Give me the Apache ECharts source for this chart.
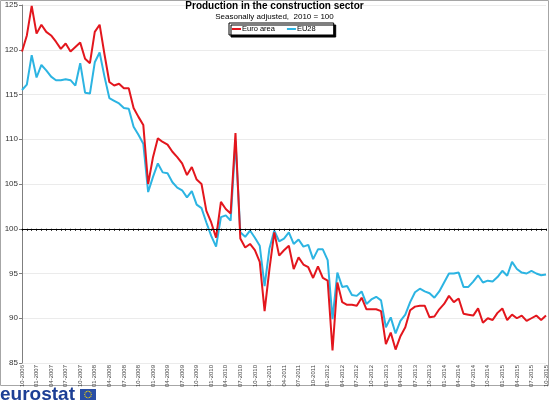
<!DOCTYPE html>
<html>
<head>
<meta charset="utf-8">
<script src="https://cdn.jsdelivr.net/npm/echarts@6/dist/echarts.min.js"></script>
<style>
  html, body { margin: 0; padding: 0; background: #fff; }
  #chart { width: 549px; height: 412px; }
</style>
</head>
<body>
<div id="chart"></div>
<script>
// 月度数据，从 10-2006 到 10-2015
var startYear = 2006
var startMonth = 10
var monthCount = 109

var euroArea = [
  119.8, 121.6, 124.9, 121.8, 122.8, 122.0, 121.6, 120.9, 120.1, 120.7,
  119.8, 120.3, 120.8, 119.0, 118.5, 122.0, 122.8, 119.5, 116.4, 116.0,
  116.2, 115.7, 115.7, 113.5, 112.5, 111.6, 105.0, 108.0, 110.1, 109.7,
  109.4, 108.6, 108.0, 107.3, 106.0, 106.9, 105.5, 105.0, 102.0, 100.7,
  99.0, 103.0, 102.2, 101.7, 110.7, 98.9, 97.9, 98.3, 97.6, 96.3,
  90.8, 95.5, 99.6, 97.0, 97.6, 98.1, 95.5, 96.8, 96.0, 95.7,
  94.5, 95.8, 94.5, 94.2, 86.4, 94.0, 91.8, 91.5, 91.5, 91.4,
  92.3, 91.0, 91.0, 91.0, 90.8, 87.1, 88.4, 86.5, 88.0, 89.0,
  90.9, 91.3, 91.4, 91.4, 90.1, 90.2, 91.0, 91.6, 92.5, 91.8,
  92.2, 90.5, 90.4, 90.3, 91.1, 89.5, 90.0, 89.8, 90.6, 91.1,
  89.8, 90.4, 90.0, 90.3, 89.7, 90.0, 90.3, 89.8, 90.3
]

var eu28 = [
  115.5, 116.1, 119.4, 116.9, 118.3, 117.7, 117.0, 116.6, 116.6, 116.7,
  116.6, 116.0, 118.5, 115.2, 115.1, 118.6, 119.7, 117.0, 114.6, 114.3,
  114.0, 113.5, 113.4, 111.4, 110.5, 109.5, 104.1, 105.8, 107.3, 106.3,
  106.2, 105.2, 104.6, 104.3, 103.5, 104.2, 102.7, 102.3, 100.7, 99.2,
  98.0, 101.3, 101.5, 100.9, 109.8, 99.6, 99.1, 99.8, 99.0, 98.1,
  93.6, 97.8, 99.8, 98.6, 98.9, 99.6, 98.3, 98.8, 98.0, 98.2,
  96.6, 97.7, 97.7, 96.5, 89.9, 95.1, 93.5, 93.6, 92.6, 92.5,
  93.0, 91.6, 92.1, 92.4, 92.0, 89.0, 90.1, 88.3, 89.7, 90.4,
  91.8, 92.9, 93.3, 93.0, 92.8, 92.3, 93.0, 94.0, 95.0, 95.0,
  95.1, 93.5, 93.5, 94.1, 94.8, 94.0, 94.2, 94.1, 94.6, 95.3,
  94.75, 96.3, 95.5, 95.1, 95.0, 95.3, 95.0, 94.8, 94.9
]

var yTicks = [85, 125, 5] // min, max, interval

;(function () {
  // 月份标签 MM-YYYY
  var months = []
  var y = startYear
  var m = startMonth
  for (var i = 0; i < monthCount; i++) {
    months.push((m < 10 ? '0' : '') + m + '-' + y)
    m++
    if (m > 12) {
      m = 1
      y++
    }
  }

  var font = 'Liberation Sans'
  var myChart = echarts.init(document.getElementById('chart'))

  // 欧盟旗帜上的星星
  var stars = []
  for (var k = 0; k < 12; k++) {
    var a = (k / 12) * Math.PI * 2
    stars.push({
      type: 'circle',
      shape: { cx: 88 + Math.cos(a) * 3.3, cy: 394.5 + Math.sin(a) * 3.3, r: 0.6 },
      style: { fill: '#ffde00' },
    })
  }

  var option = {
    backgroundColor: '#fff',
    animation: false,
    title: {
      text: 'Production in the construction sector',
      subtext: 'Seasonally adjusted,  2010 = 100',
      left: 'center',
      top: 1,
      itemGap: 2,
      padding: 0,
      textStyle: { fontFamily: font, fontSize: 10, fontWeight: 'bold', color: '#000' },
      subtextStyle: { fontFamily: font, fontSize: 8, color: '#000' },
    },
    legend: {
      left: 229,
      top: 23,
      data: ['Euro area', 'EU28'],
      icon: 'rect',
      itemWidth: 9,
      itemHeight: 2,
      itemGap: 12,
      padding: [2, 18, 2, 3],
      backgroundColor: '#fff',
      borderColor: '#000',
      borderWidth: 1,
      shadowColor: '#000',
      shadowOffsetX: 2,
      shadowOffsetY: 2,
      shadowBlur: 0,
      textStyle: { fontFamily: font, fontSize: 7.5, color: '#000', padding: [0, 0, 0, -4] },
    },
    grid: {
      left: 22,
      right: 2,
      top: 5,
      bottom: 49,
    },
    xAxis: [
      {
        type: 'category',
        boundaryGap: false,
        data: months,
        axisLine: { show: false },
        axisTick: { show: false },
        axisLabel: {
          interval: 2,
          rotate: 90,
          fontFamily: font,
          fontSize: 6,
          color: '#444',
          margin: 2,
        },
        splitLine: { show: false },
      },
      {
        // 100 处的横轴
        type: 'category',
        boundaryGap: false,
        position: 'bottom',
        offset: -134.25,
        data: months,
        axisLine: { show: true, lineStyle: { color: '#000', width: 1 } },
        axisTick: { show: true, interval: 0, length: 2, lineStyle: { color: '#000' } },
        axisLabel: { show: false },
        splitLine: { show: false },
        z: 5,
      },
    ],
    yAxis: {
      type: 'value',
      min: yTicks[0],
      max: yTicks[1],
      interval: yTicks[2],
      axisLine: { show: true, lineStyle: { color: '#7f7f7f' } },
      axisTick: { show: true, length: 3, lineStyle: { color: '#7f7f7f' } },
      axisLabel: { fontFamily: font, fontSize: 8, color: '#333', margin: 4 },
      splitLine: { show: true, lineStyle: { color: '#ebebeb', width: 1 } },
    },
    series: [
      {
        name: 'Euro area',
        type: 'line',
        data: euroArea,
        symbol: 'none',
        itemStyle: { color: '#e3161d' },
        lineStyle: { color: '#e3161d', width: 2 },
        z: 3,
      },
      {
        name: 'EU28',
        type: 'line',
        data: eu28,
        symbol: 'none',
        itemStyle: { color: '#2cb4e2' },
        lineStyle: { color: '#2cb4e2', width: 2 },
        z: 2,
      },
    ],
    graphic: [
      {
        type: 'rect',
        shape: { x: 0.5, y: 0.5, width: 548, height: 385 },
        style: { fill: 'none', stroke: '#a6a6a6', lineWidth: 1 },
        z: -1,
      },
      {
        type: 'text',
        left: 0,
        top: 385,
        style: { text: 'eurostat', font: 'bold 19px ' + font, fill: '#1d3f95' },
      },
      {
        type: 'group',
        children: [
          {
            type: 'rect',
            shape: { x: 80, y: 389, width: 16, height: 11 },
            style: { fill: '#2a4ea4' },
          },
        ].concat(stars),
      },
    ],
  }

  myChart.setOption(option)
})()
</script>
</body>
</html>
